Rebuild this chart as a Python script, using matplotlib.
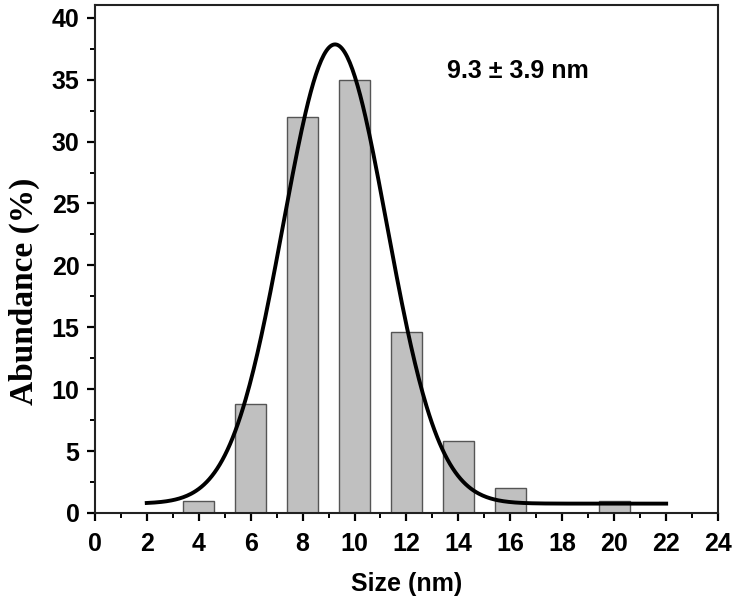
import numpy as np
import matplotlib
matplotlib.use('Agg')
import matplotlib.pyplot as plt
from matplotlib.ticker import MultipleLocator

# histogram of particle sizes
sizes = [4, 6, 8, 10, 12, 14, 16, 20]
abundance = [1.0, 8.8, 32.0, 35.0, 14.6, 5.8, 2.0, 1.0]

# gaussian fit
fit_xc = 9.25
fit_sigma = 2.0
fit_amp = 37.1
fit_y0 = 0.75
fit_range = (2, 22)

label_text = '9.3 ± 3.9 nm'

fig = plt.figure(figsize=(7.35, 6.02), dpi=100)
ax = fig.add_axes([0.129, 0.148, 0.848, 0.843])

ax.bar(sizes, abundance, width=1.2, color='#c0c0c0', edgecolor='#555555', linewidth=1.0, zorder=2)

xf = np.linspace(fit_range[0], fit_range[1], 400)
yf = fit_y0 + fit_amp * np.exp(-(xf - fit_xc) ** 2 / (2 * fit_sigma ** 2))
ax.plot(xf, yf, color='black', linewidth=2.8, zorder=3)

ax.set_xlim(0, 24)
ax.set_ylim(0, 41)
ax.xaxis.set_major_locator(MultipleLocator(2))
ax.xaxis.set_minor_locator(MultipleLocator(1))
ax.yaxis.set_major_locator(MultipleLocator(5))
ax.yaxis.set_minor_locator(MultipleLocator(2.5))

ax.tick_params(which='major', direction='out', length=6, width=1.6, labelsize=18)
ax.tick_params(axis='x', which='major', pad=8)
ax.tick_params(axis='y', which='major', pad=5)
ax.tick_params(which='minor', direction='out', length=3.5, width=1.4)
for lab in ax.get_xticklabels() + ax.get_yticklabels():
    lab.set_fontfamily('Liberation Sans')
    lab.set_fontweight('bold')

for s in ax.spines.values():
    s.set_linewidth(1.5)
    s.set_color('#222222')

ax.set_xlabel('Size (nm)', fontsize=18, fontweight='bold', family='Liberation Sans', labelpad=11)
ax.set_ylabel('Abundance (%)', fontsize=24, fontweight='bold', family='Liberation Serif',
              va='center')
ax.yaxis.set_label_coords(-0.113, 0.437)

ax.text(16.3, 35.7, label_text, fontsize=18, fontweight='bold', family='Liberation Sans',
        ha='center', va='center')

fig.savefig('out.png', dpi=100)
